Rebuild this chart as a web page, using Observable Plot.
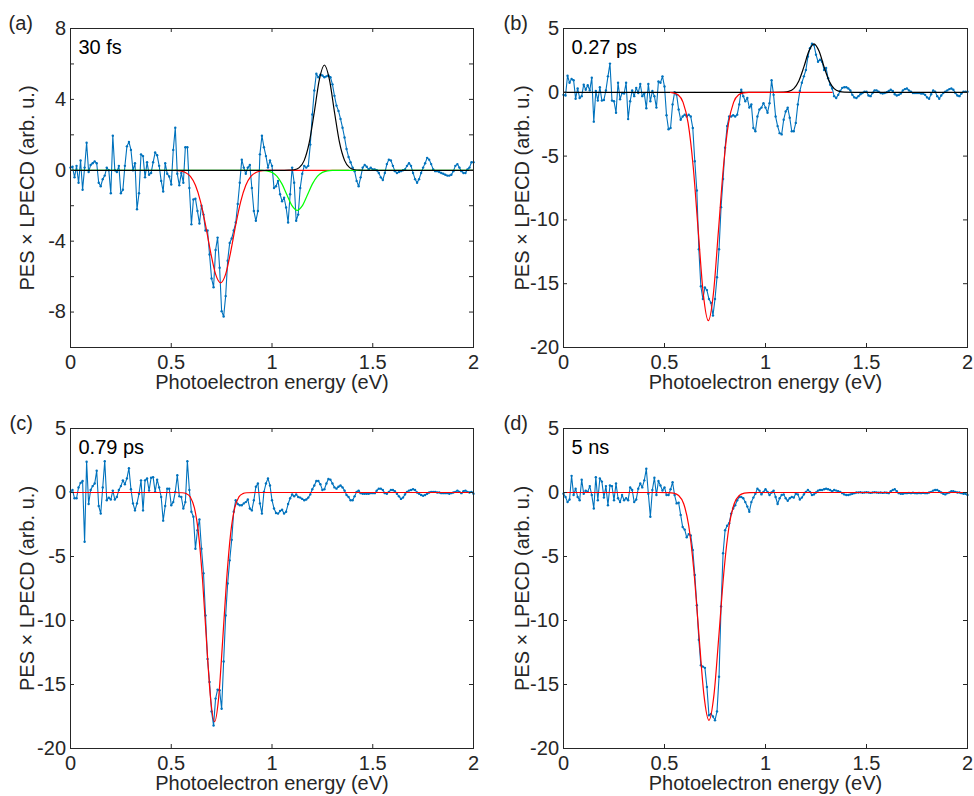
<!DOCTYPE html>
<html><head><meta charset="utf-8">
<script src="https://cdn.jsdelivr.net/npm/d3@7"></script>
<script src="https://cdn.jsdelivr.net/npm/@observablehq/plot@0.6"></script>
<style>
body{margin:0;background:#fff;}
#wrap{position:relative;width:974px;height:796px;background:#fff;}
.panel{position:absolute;}
</style></head><body><div id="wrap"></div>
<script>
// sampling grid of the measured spectra (eV)
const energyStep = 0.01;
const energy = d3.range(201).map(i => +(i * energyStep).toFixed(2));

const panelLetters = ["(a)", "(b)", "(c)", "(d)"];
const delays = ["30 fs", "0.27 ps", "0.79 ps", "5 ns"];
const xTicks = [0, 0.5, 1, 1.5, 2];
const xLabel = "Photoelectron energy (eV)";
const yLabel = "PES \u00d7 LPECD (arb. u.)";
const yLabelsA = [-8, -4, 0, 4, 8];
const yMinorA = [-8, -6, -4, -2, 0, 2, 4, 6];
const yLabelsB = [-20, -15, -10, -5, 0, 5];
const yMinorB = [-15, -10, -5, 0];

// PES x LPECD, panel (a) 30 fs
const pesA = [0.15,0.2,-0.4,0.25,-0.7,0.55,-1.1,0.15,1.55,-0.1,
0.3,0.4,0.5,0.4,-0.7,-0.9,-0.5,-0.3,0.15,0,
-1.3,1.95,0,-0.1,0.25,-1.3,-1.1,0.25,1.35,1.6,
1.15,0,0.4,-2.2,-1.3,0.9,0.8,-0.4,0.45,-0.25,
-0.15,0.45,1.0,0.85,0.25,-0.6,-1.2,0.4,-0.2,-0.35,
-0.8,1.15,2.4,-0.2,-0.85,-0.15,-0.7,1.3,1.3,-1.0,
-3.05,-1.65,-1.6,-2.3,-3.0,-2.0,-2.5,-3.4,-3.4,-4.75,
-6.1,-6.6,-4.5,-3.8,-5.5,-7.95,-8.25,-7.1,-5.1,-4.1,
-3.85,-3.4,-2.95,-1.9,-0.7,0.6,0.15,-0.2,0.15,0.3,
-1.0,-2.3,-2.85,-2.3,0.9,1.95,1.3,0.8,0.15,0.55,
0.25,-1.0,-0.9,-0.6,-1.35,-1.75,-1.55,-2.1,-2.95,-1.35,
0.15,-0.7,-2.85,-2.5,-1.0,-0.2,0.25,0.15,0.25,1.45,
3.15,4.5,5.45,5.25,5.4,5.35,5.25,5.3,5.35,5.25,
4.85,4.2,3.65,3.35,2.9,2.4,1.85,1.2,0.75,0.45,
0.15,-0.05,-0.6,-0.9,-0.4,0.15,0.3,0.2,0.05,0.15,
0.05,0.05,0,-0.15,-0.4,-0.55,-0.15,0.35,0.6,0.55,
0.25,-0.05,-0.15,-0.1,-0.05,0,0.05,0.25,0.4,0.25,
-0.15,-0.5,-0.7,-0.5,-0.15,0.15,0.4,0.7,0.6,0.35,
0.05,-0.05,-0.05,-0.1,-0.15,-0.2,-0.25,-0.3,-0.3,-0.25,
-0.05,0.25,0.35,0.15,-0.05,-0.15,-0.15,0.05,0.15,0.45,
0.45];

// panel (b) 0.27 ps
const pesB = [-0.2,-0.25,1.3,0.75,1.05,0.95,-0.5,0.3,-0.45,-0.3,
0.6,0.2,0.55,0.15,1.15,-2.3,0.1,-0.65,0.4,-0.65,
-0.6,0.15,1.25,2.25,-0.65,-0.7,-1.6,0.75,-0.55,-0.05,
-0.1,0.75,-2.1,-0.7,0.15,-0.3,0.35,-0.05,0.65,-0.3,
-0.1,-1.25,0.65,-0.7,0.1,-0.3,-1.2,0.85,0.75,1.25,
0.45,-1.8,-2.9,-2.8,-0.95,0,-0.2,-1.35,-2.15,-1.9,
-1.75,-1.9,-1.75,-1.9,-2.8,-5.4,-7.7,-12.3,-15.2,-16.2,
-15.3,-15.5,-16.2,-16.5,-17.5,-16.2,-14.5,-12.3,-9.0,-6.8,
-4.35,-2.65,-1.9,-1.9,-1.8,-1.9,-1.75,-0.95,0.2,-0.3,
-0.7,-0.45,-1.2,-0.95,-2.8,-3.05,-1.9,-1.35,-1.2,-0.85,
-1.2,-1.6,-0.85,0.95,-0.2,-1.9,-2.65,-3.2,-3.3,-2.15,
-1.5,-1.2,-2.0,-3.05,-3.05,-2.4,-0.95,0.1,0.75,1.25,
1.75,2.8,3.45,3.8,3.7,2.95,2.4,2.55,2.4,1.75,
1.9,1.1,0.6,0.3,-0.3,-0.45,-0.2,0.1,0.35,0.4,
0.4,0.3,0.15,-0.2,-0.4,-0.45,-0.3,-0.15,-0.05,0.05,
0.05,-0.25,-0.3,-0.05,0.15,0.15,0.05,-0.05,-0.1,-0.05,
0,0.1,0.2,0.1,-0.15,-0.25,-0.2,-0.1,0.15,0.25,
0.3,0.15,0.05,-0.05,-0.05,-0.05,-0.05,-0.1,-0.1,-0.2,
-0.4,-0.5,-0.15,0.15,0.05,-0.3,-0.5,-0.25,-0.05,0.05,
0.15,0.25,0.3,0.2,-0.05,-0.25,-0.3,-0.1,0.05,0.05,
0.05];

// panel (c) 0.79 ps
const pesC = [0.05,0.2,-0.45,-0.45,0.4,0.75,0.9,-3.85,2.4,-0.9,
0.2,0.5,0.7,1.7,-1.05,-1.65,0.4,2.45,-0.6,-0.4,
-0.55,0.15,-0.55,-0.35,0.2,0.5,0.95,0.65,1.1,1.9,
0.25,-0.85,-1.4,-0.85,-0.1,0.95,-1.4,0.95,1.1,0.15,
1.15,1.2,0.05,1.0,0.4,-0.35,-2.2,-1.05,0.3,0.3,
-1.0,-0.75,0.05,1.35,-0.3,-0.35,-1.25,-0.75,2.45,0.2,
-1.5,-1.9,-4.4,-2.95,-2.1,-4.4,-6.3,-9.6,-13.0,-14.8,
-17.1,-18.2,-16.1,-15.4,-15.45,-16.9,-13.2,-9.6,-7.1,-5.3,
-3.7,-1.5,-0.6,-0.9,-1.0,-1.0,-0.85,-0.75,-0.55,-1.25,
-1.4,-0.6,0.45,0.7,-0.85,-1.65,0.05,0.7,1.1,0.55,
-0.6,-1.25,-1.6,-1.65,-1.45,-1.35,-1.65,-1.5,-0.9,-0.45,
-0.15,-0.3,-0.15,-0.35,-0.4,-0.5,-0.6,-0.55,-0.4,-0.15,
0.25,0.55,0.9,0.9,0.65,0.2,0.25,0.7,1.05,1.0,
0.7,0.4,0.3,0.45,0.55,0.4,0.15,-0.2,-0.35,-0.6,
-0.6,-0.3,0.05,0.15,-0.05,-0.1,-0.1,-0.1,-0.1,-0.05,
-0.05,-0.05,0.15,0.3,0.3,0.2,-0.05,-0.1,0.05,0.2,
0.2,0.1,-0.1,-0.3,-0.5,-0.4,-0.15,0.05,0.15,0.2,
0.25,0.2,0,-0.1,-0.2,-0.25,-0.2,-0.1,0,0.05,
0.05,0.05,0,0,-0.05,-0.05,-0.05,-0.05,-0.1,-0.05,
0,0.05,0.15,0.05,-0.05,0.1,0.15,0.05,0,0.05,
-0.1];

// panel (d) 5 ns
const pesD = [-0.1,-0.35,-0.75,-0.55,1.3,-0.2,0.3,-0.35,-0.6,1.0,
-0.1,0.15,0.05,0.5,-0.2,-1.25,1.2,-0.6,1.1,0.85,
-0.4,0.5,-1.0,0.55,0.5,-0.6,0.7,-0.45,-0.75,-0.2,
-0.6,-0.45,-0.6,0.4,0.2,-0.75,-0.55,0.3,0.7,0.4,
0.95,1.85,-0.1,-1.9,0.2,1.15,-0.2,0.9,0.55,0.15,
0.4,-0.2,-0.2,0.25,0.8,-0.2,-0.85,-0.8,-1.75,-2.7,
-2.9,-3.5,-3.25,-3.35,-4.5,-6.45,-8.8,-11.5,-13.5,-13.6,
-13.7,-15.2,-17.4,-17.3,-17.5,-17.8,-17.1,-14.4,-8.9,-4.75,
-2.95,-2.6,-2.4,-1.65,-1.25,-1.0,-0.6,-0.35,-0.35,-0.45,
-0.75,-1.1,-1.5,-0.75,-0.4,-0.1,0.3,0.15,-0.15,0.05,
0.25,0.05,-0.2,0,0.15,-0.35,-0.9,-0.45,-0.2,-0.15,
-0.45,-0.65,-0.45,-0.35,-0.4,-0.1,-0.15,-0.55,-0.4,-0.15,
0.05,0.2,0.05,-0.2,-0.15,0,0.15,0.2,0.2,0.25,
0.3,0.25,0.2,0.1,0.2,0.15,0.1,0.05,-0.05,-0.15,
-0.2,-0.2,-0.15,-0.1,-0.05,0,0,0.02,-0.02,0,
0.02,0,-0.03,0,0.02,0,-0.02,0,-0.03,0,
-0.02,-0.05,0.1,0.2,0.25,0.1,-0.05,-0.1,-0.1,-0.05,
-0.05,-0.03,-0.05,-0.02,-0.05,-0.06,-0.04,-0.05,-0.03,-0.05,
-0.05,0,0.05,0.15,0.2,0.2,0.1,0,-0.1,-0.15,
-0.05,0,0.1,0.1,0.05,0,0,-0.05,-0.1,-0.1,
-0.2];

// Gaussian fit curves, sampled (energy, value)
const fitA_redE = [0.52,0.545,0.57,0.595,0.62,0.645,0.67,0.695,0.72,0.745,0.77,0.795,0.82,0.845,0.87,0.895,0.92,0.945,0.97,1.0,1.38];
const fitA_redV = [-0.01,-0.037,-0.123,-0.35,-0.848,-1.75,-3.08,-4.6,-5.86,-6.35,-5.86,-4.6,-3.08,-1.75,-0.848,-0.35,-0.123,-0.037,-0.01,0,0];
const fitA_greenE = [0,0.9,0.95,0.975,1.0,1.025,1.05,1.075,1.1,1.125,1.15,1.175,1.2,1.225,1.25,1.275,1.3,1.35,2];
const fitA_greenV = [0,0,-0.007,-0.032,-0.118,-0.34,-0.78,-1.41,-2.01,-2.26,-2.01,-1.41,-0.78,-0.34,-0.118,-0.032,-0.007,0,0];
const fitA_blackE = [0,1.06,1.085,1.11,1.135,1.16,1.185,1.21,1.235,1.26,1.285,1.31,1.335,1.36,1.385,1.41,1.435,1.46,2];
const fitA_blackV = [0,0,0.004,0.029,0.148,0.559,1.57,3.29,5.12,5.94,5.12,3.29,1.57,0.559,0.148,0.029,0.004,0,0];

const fitB_redE = [0.53,0.542,0.567,0.592,0.617,0.642,0.667,0.692,0.717,0.742,0.767,0.792,0.817,0.842,0.867,0.892,0.917,0.95,1.33];
const fitB_redV = [-0.016,-0.039,-0.199,-0.786,-2.42,-5.81,-10.86,-15.8,-17.9,-15.8,-10.86,-5.81,-2.42,-0.786,-0.199,-0.039,-0.006,0,0];
const fitB_blackE = [0,1.04,1.09,1.115,1.14,1.165,1.19,1.215,1.24,1.265,1.29,1.315,1.34,1.365,1.39,1.44,2];
const fitB_blackV = [0,0,0.011,0.067,0.287,0.889,1.99,3.23,3.8,3.23,1.99,0.889,0.287,0.067,0.011,0,0];

const fitC_redE = [0,0.515,0.555,0.575,0.595,0.615,0.635,0.655,0.675,0.695,0.715,0.735,0.755,0.775,0.795,0.815,0.835,0.855,0.875,0.915,2];
const fitC_redV = [0,0,-0.018,-0.089,-0.365,-1.2,-3.17,-6.76,-11.61,-16.07,-17.9,-16.07,-11.61,-6.76,-3.17,-1.2,-0.365,-0.089,-0.018,0,0];

const fitD_redE = [0,0.47,0.52,0.545,0.57,0.595,0.62,0.645,0.67,0.695,0.72,0.745,0.77,0.795,0.82,0.845,0.87,0.895,0.92,0.97,2];
const fitD_redV = [0,0,-0.008,-0.049,-0.235,-0.881,-2.6,-6.03,-11.01,-15.79,-17.8,-15.79,-11.01,-6.03,-2.6,-0.881,-0.235,-0.049,-0.008,0,0];

const BLUE = "#0072BD", AXIS = "#262626";
const FONT = "'Liberation Sans', Arial, Helvetica, sans-serif";

const zipFit = (E, V) => E.map((e, i) => ({e, v: V[i]}));

const panels = [
  {left: 0, top: 0, mL: 70, mR: 14, mT: 28, mB: 51, letterDx: -62, ylDx: -36.7,
   pes: pesA, yDomain: [-10, 8], yLabels: yLabelsA, yMinor: yMinorA,
   fits: [[fitA_redE, fitA_redV, "#ff0000"], [fitA_greenE, fitA_greenV, "#00ff00"], [fitA_blackE, fitA_blackV, "#000000"]]},
  {left: 487, top: 0, mL: 76, mR: 7, mT: 28, mB: 51, letterDx: -60, ylDx: -35,
   pes: pesB, yDomain: [-20, 5], yLabels: yLabelsB, yMinor: yMinorB,
   fits: [[fitB_blackE, fitB_blackV, "#000000"], [fitB_redE, fitB_redV, "#ff0000"]]},
  {left: 0, top: 398, mL: 70, mR: 14, mT: 30, mB: 48, letterDx: -61, ylDx: -36.7,
   pes: pesC, yDomain: [-20, 5], yLabels: yLabelsB, yMinor: yMinorB,
   fits: [[fitC_redE, fitC_redV, "#ff0000"]]},
  {left: 487, top: 398, mL: 76, mR: 7, mT: 30, mB: 48, letterDx: -60, ylDx: -35,
   pes: pesD, yDomain: [-20, 5], yLabels: yLabelsB, yMinor: yMinorB,
   fits: [[fitD_redE, fitD_redV, "#ff0000"]]}
];

const wrap = document.getElementById("wrap");
panels.forEach((p, k) => {
  const W = 487, H = 398;
  const innerW = W - p.mL - p.mR, innerH = H - p.mT - p.mB;
  const rows = energy.map((e, i) => ({e, v: p.pes[i]}));
  const marks = [
    Plot.line(rows, {x: "e", y: "v", stroke: BLUE, strokeWidth: 1.1}),
    Plot.dot(rows, {x: "e", y: "v", r: 1.2, fill: BLUE, stroke: null}),
    ...p.fits.map(([E, V, c]) => Plot.line(zipFit(E, V), {x: "e", y: "v", stroke: c, strokeWidth: 1.2, curve: "monotone-x"})),
    Plot.frame({stroke: AXIS, strokeWidth: 1}),
    Plot.tickY(p.yMinor, {y: d => d, insetRight: innerW - 4, stroke: AXIS}),
    Plot.tickY(p.yMinor, {y: d => d, insetLeft: innerW - 4, stroke: AXIS}),
    Plot.tickX(xTicks.slice(1, -1), {x: d => d, insetTop: innerH - 4, stroke: AXIS}),
    Plot.tickX(xTicks.slice(1, -1), {x: d => d, insetBottom: innerH - 4, stroke: AXIS}),
    Plot.axisY(p.yLabels, {tickSize: 0, tickPadding: 4.5, tickFormat: d => String(d), label: null, fill: AXIS}),
    Plot.axisX(xTicks, {tickSize: 0, tickPadding: 7, tickFormat: d => String(d), label: null, fill: AXIS}),
    Plot.text([xLabel], {frameAnchor: "bottom", dy: 41.5, lineAnchor: "bottom", textAnchor: "middle", fill: AXIS}),
    Plot.text([yLabel], {frameAnchor: "left", dx: p.ylDx, rotate: -90, lineAnchor: "bottom", textAnchor: "middle", fill: AXIS}),
    Plot.text([delays[k]], {frameAnchor: "top-left", dx: 8, dy: 25.5, lineAnchor: "bottom", textAnchor: "start", fill: "#000"}),
    Plot.text([panelLetters[k]], {frameAnchor: "top-left", dx: p.letterDx, dy: 1.3, lineAnchor: "bottom", textAnchor: "start", fill: AXIS})
  ];
  const chart = Plot.plot({
    width: W, height: H,
    marginLeft: p.mL, marginRight: p.mR, marginTop: p.mT, marginBottom: p.mB,
    x: {domain: [0, 2]},
    y: {domain: p.yDomain},
    style: {fontFamily: FONT, fontSize: "20px", background: "transparent", overflow: "visible", color: AXIS},
    marks
  });
  const div = document.createElement("div");
  div.className = "panel";
  div.style.left = p.left + "px";
  div.style.top = p.top + "px";
  div.appendChild(chart);
  wrap.appendChild(div);
});
</script>
</body></html>
